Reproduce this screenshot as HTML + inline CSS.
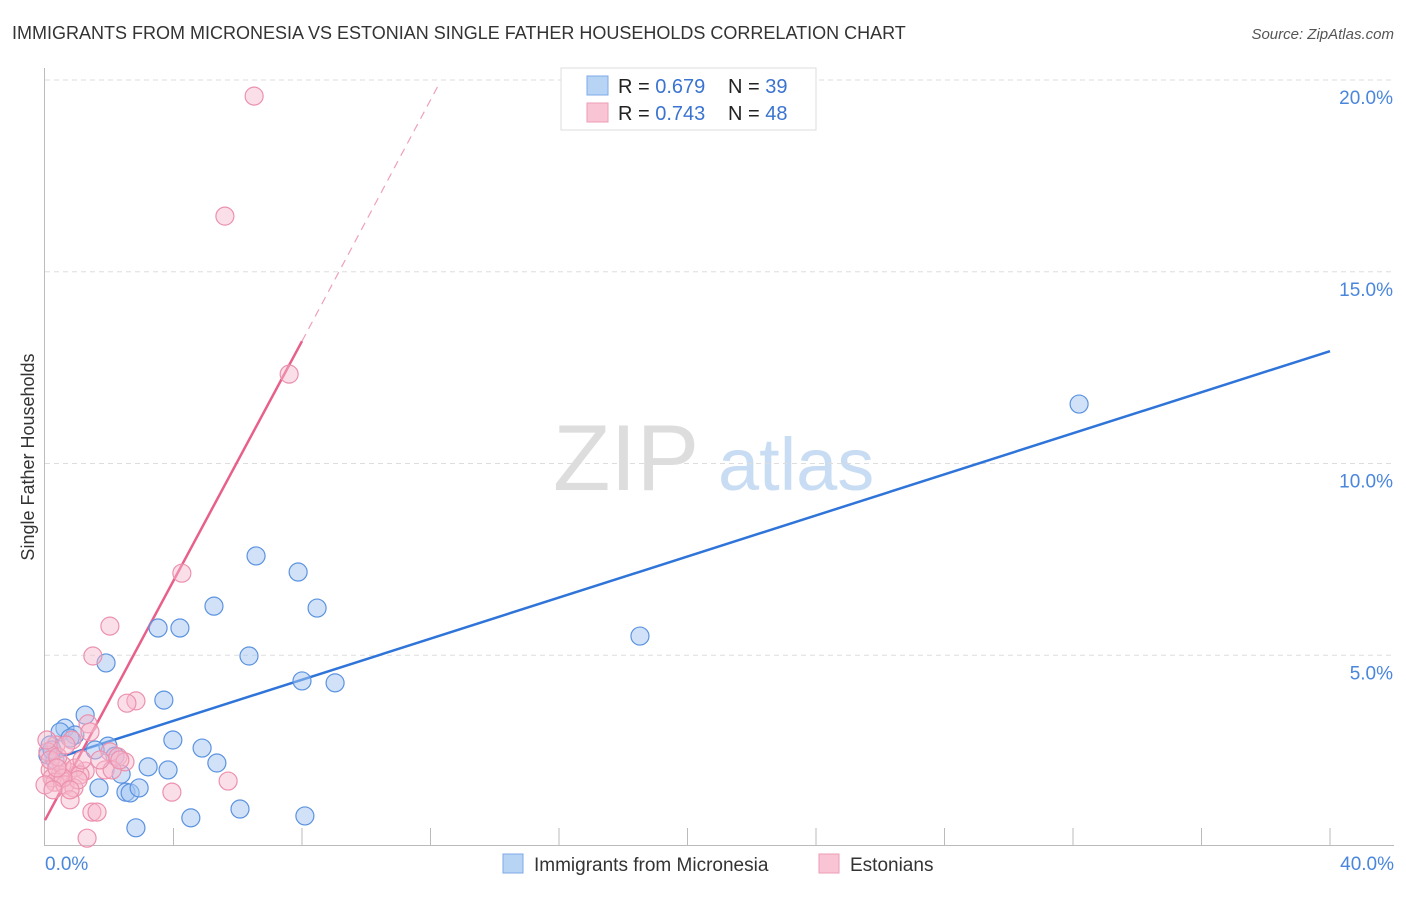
<!DOCTYPE html>
<html><head><meta charset="utf-8"><style>
body{margin:0;background:#fff;font-family:"Liberation Sans",sans-serif;}
svg text{font-family:"Liberation Sans",sans-serif;}
</style></head><body>
<svg id="c" width="1406" height="892" xmlns="http://www.w3.org/2000/svg">
<text x="12" y="39" font-size="18" fill="#333">IMMIGRANTS FROM MICRONESIA VS ESTONIAN SINGLE FATHER HOUSEHOLDS CORRELATION CHART</text>
<text x="1394" y="39" font-size="15" fill="#555" font-style="italic" text-anchor="end">Source: ZipAtlas.com</text>
<text transform="translate(34,457) rotate(-90)" font-size="18" fill="#333" text-anchor="middle">Single Father Households</text>
<g><text x="553" y="490" font-size="94" fill="#ddd" font-family="Liberation Serif">ZIP</text><text x="718" y="490" font-size="74" fill="#c8dcf3">atlas</text></g>
<g id="grid"></g><g id="lines"></g><g id="pts"></g>
<g>
<rect x="561" y="68" width="255" height="62" fill="#fff" stroke="#ddd"/>
<rect x="587" y="76" width="21" height="19" fill="#b8d4f5" stroke="#7eaae6"/>
<rect x="587" y="103" width="21" height="19" fill="#f9c5d5" stroke="#ee9db5"/>
<text x="618" y="93" font-size="20" fill="#222">R = <tspan fill="#3a74d0">0.679</tspan><tspan x="728">N = </tspan><tspan fill="#3a74d0">39</tspan></text>
<text x="618" y="120" font-size="20" fill="#222">R = <tspan fill="#3a74d0">0.743</tspan><tspan x="728">N = </tspan><tspan fill="#3a74d0">48</tspan></text>
</g>
<g>
<rect x="503" y="854" width="20" height="19" fill="#b8d4f5" stroke="#7eaae6"/>
<text x="534" y="871" font-size="19" fill="#333">Immigrants from Micronesia</text>
<rect x="819" y="854" width="20" height="19" fill="#f9c5d5" stroke="#ee9db5"/>
<text x="850" y="871" font-size="19" fill="#333">Estonians</text>
</g>
</svg>
<script>
const blueX=[32.19,18.52,6.57,7.88,5.26,8.47,3.52,4.20,6.35,1.90,8.00,9.03,3.70,1.25,0.62,0.47,0.93,3.98,1.96,1.56,0.16,4.89,5.35,3.21,3.83,2.37,1.68,2.52,2.65,2.93,6.07,4.54,8.09,2.83,0.09,0.31,2.18,0.78,0.22];
const blueY=[11.55,5.50,7.59,7.17,6.28,6.23,5.71,5.71,4.98,4.80,4.33,4.28,3.83,3.44,3.10,3.00,2.92,2.79,2.63,2.53,2.66,2.58,2.19,2.09,2.01,1.90,1.54,1.43,1.41,1.54,0.99,0.76,0.81,0.50,2.40,2.27,2.37,2.84,2.53];
const pinkX=[6.51,5.60,7.60,4.26,2.02,1.49,2.83,2.55,1.34,0.84,0.34,0.09,2.02,2.27,2.49,1.87,2.09,1.25,0.72,0.47,0.16,0.22,0.53,0.93,1.09,0.31,0.62,0.90,0.78,1.46,1.62,1.31,5.70,3.95,0.16,0.40,0.65,1.15,0.00,1.03,0.56,0.37,1.71,2.33,1.40,0.06,0.25,0.78];
const pinkY=[19.58,16.45,12.33,7.14,5.76,4.98,3.81,3.75,3.21,2.79,2.66,2.48,2.48,2.35,2.22,2.01,2.01,1.98,1.96,1.88,2.01,1.80,2.14,2.06,1.88,1.69,1.62,1.54,1.23,0.91,0.91,0.23,1.72,1.43,2.27,2.35,2.66,2.27,1.62,1.75,1.80,2.06,2.27,2.27,3.00,2.79,1.49,1.49];
const blueTrend=[2.22,12.93]; // y at x=0 and x=40
const pinkTrend=[0.70,13.19,19.95]; // y at x=0, x=8, x=12.3
const xTickLabels=["0.0%","40.0%"];
const yTicks=[5,10,15,20];
const yTickLabels=["5.0%","10.0%","15.0%","20.0%"];
const NS="http://www.w3.org/2000/svg";
const X=v=>45+v*32.125, Y=v=>847-v*38.35;
function mk(t,a,p){const e=document.createElementNS(NS,t);for(const k in a)e.setAttribute(k,a[k]);p.appendChild(e);return e;}
const g=document.getElementById('grid');
yTicks.forEach((t,i)=>{const l=mk('line',{x1:45,x2:1394,y1:Y(t),y2:Y(t),stroke:'#ddd','stroke-dasharray':'5,4'},g);


const tx=mk('text',{x:1393,y:Y(t)+24,'font-size':19,fill:'#4a86dc','text-anchor':'end'},g);tx.textContent=yTickLabels[i];

});
mk('line',{x1:44.5,x2:44.5,y1:68,y2:846,stroke:'#bbb'},g);
mk('line',{x1:44,x2:1394,y1:845.5,y2:845.5,stroke:'#bbb'},g);
for(let i=1;i<=10;i++){const t=mk('line',{x1:X(i*4),x2:X(i*4),y1:828,y2:846,stroke:'#bbb'},g);

}
[[0,'start',X(0)],[40,'end',1394]].forEach((d,i)=>{const tx=mk('text',{x:d[2],y:870,'font-size':19,fill:'#4a86dc','text-anchor':d[1]},g);tx.textContent=xTickLabels[i];

});
const L=document.getElementById('lines');
const bl=mk('line',{x1:X(0),y1:Y(blueTrend[0]),x2:X(40),y2:Y(blueTrend[1]),stroke:'#2f74d8','stroke-width':2.5},L);


const pl=mk('line',{x1:X(0),y1:Y(pinkTrend[0]),x2:X(8),y2:Y(pinkTrend[1]),stroke:'#e8608a','stroke-width':2.5},L);


const pd=mk('line',{x1:X(8),y1:Y(pinkTrend[1]),x2:X(12.3),y2:Y(pinkTrend[2]),stroke:'#eea0b8','stroke-width':1.2,'stroke-dasharray':'8,6'},L);


const P=document.getElementById('pts');
blueX.forEach((x,i)=>{const c=mk('circle',{cx:X(x),cy:Y(blueY[i]),r:9,fill:'rgba(164,198,242,0.5)',stroke:'#5b93e0','stroke-width':1.2},P);

});
pinkX.forEach((x,i)=>{const c=mk('circle',{cx:X(x),cy:Y(pinkY[i]),r:9,fill:'rgba(247,185,205,0.45)',stroke:'#ec91ad','stroke-width':1.2},P);

});
</script>
</body></html>
